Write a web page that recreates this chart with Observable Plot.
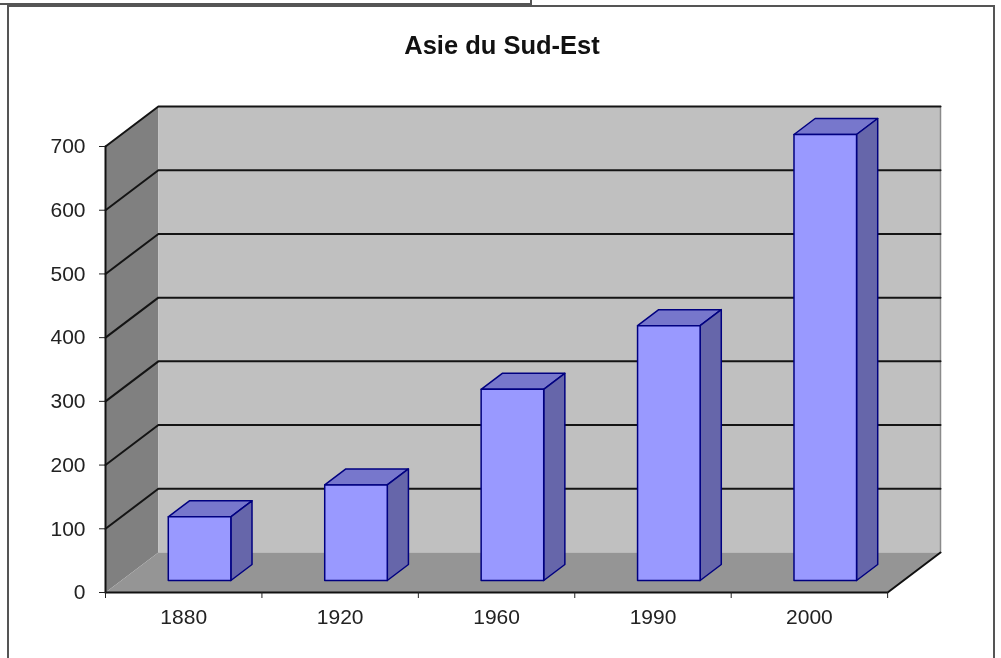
<!DOCTYPE html>
<html><head><meta charset="utf-8">
<script src="https://cdn.jsdelivr.net/npm/d3@7"></script>
<script src="https://cdn.jsdelivr.net/npm/@observablehq/plot@0.6"></script>
<style>
html,body{margin:0;padding:0;background:#fff;overflow:hidden}
#page{position:relative;width:1001px;height:658px;overflow:hidden;font-family:"Liberation Sans",Arial,sans-serif;color:#111;filter:blur(.45px)}
#tab{position:absolute;left:-2px;top:-2px;width:532px;height:4px;border:1px solid #555;border-width:1px 2px 2px 0}
#frame{position:absolute;left:7px;top:5px;width:988px;height:700px;border:2px solid #555;box-sizing:border-box}
#title{position:absolute;left:0;top:28px;width:1004px;text-align:center;font-size:25.5px;font-weight:bold;line-height:34px;color:#111}
#chart{position:absolute;left:0;top:80px}
</style></head><body>
<div id="page"><div id="tab"></div><div id="frame"></div>
<div id="title">Asie du Sud-Est</div>
<div id="chart"></div></div>
<script>
const categories = ["1880","1920","1960","1990","2000"];
const values = [100,150,300,400,700];
const yTicks = [0,100,200,300,400,500,600,700];
const yMax = 700;

// oblique depth: how far the back of the chart sits, in data units
const DX = 0.338, DY = 62.8;
const n = categories.length;
const P = (c, v, z) => ({x: c + z*DX, y: v + z*DY});
const poly = (id, pts) => pts.map(p => ({id, ...P(...p)}));
const shape = (rows, fill, stroke, strokeWidth=0) =>
  Plot.line(rows, {x:"x", y:"y", z:"id", fill, stroke, strokeWidth, curve:"linear-closed", strokeLinejoin:"round"});
const seg = (rows, stroke, strokeWidth) =>
  Plot.line(rows, {x:"x", y:"y", z:"id", stroke, strokeWidth, curve:"linear"});

const wallLeft = poly("l", [[0,0,0],[0,yMax,0],[0,yMax,1],[0,0,1]]);
const wallBack = poly("b", [[0,0,1],[0,yMax,1],[n,yMax,1],[n,0,1]]);
const floor    = poly("f", [[0,0,0],[0,0,1],[n,0,1],[n,0,0]]);
const grid = yTicks.filter(v => v > 0).flatMap(v => poly("g"+v, [[0,v,0],[0,v,1],[n,v,1]]));
const edge = poly("e", [[0,0,0],[n,0,0],[n,0,1]]);
const spine = poly("s", [[0,0,0],[0,yMax,0]]);
const wallEdge = poly("r", [[n,0,1],[n,yMax,1]]);

const bw = 0.2, zf = 0.3, zb = 0.7;
const bars = values.flatMap((v,i) => {
  const a = i+.5-bw, b = i+.5+bw;
  return [
    {k:"top",  r:poly("t"+i, [[a,v,zf],[a,v,zb],[b,v,zb],[b,v,zf]])},
    {k:"side", r:poly("d"+i, [[b,0,zf],[b,v,zf],[b,v,zb],[b,0,zb]])},
    {k:"front",r:poly("c"+i, [[a,0,zf],[a,v,zf],[b,v,zf],[b,0,zf]])}
  ];
});
const barRows = k => bars.filter(d => d.k === k).flatMap(d => d.r);

const plot = Plot.plot({
  width:1001, height:578,
  marginTop:26, marginBottom:66, marginLeft:105, marginRight:61,
  style:{background:"transparent", fontFamily:'"Liberation Sans",Arial,sans-serif', overflow:"visible"},
  x:{domain:[0,n+DX], axis:null},
  y:{domain:[0,yMax+DY], axis:null},
  marks:[
    shape(wallLeft,"#808080"),
    shape(wallBack,"#c0c0c0"),
    shape(floor,"#959595"),
    seg(wallEdge,"#8a8a8a",1.5),
    seg(grid,"#141414",2),
    shape(barRows("top"),"#7777cc","#000080",1.5),
    shape(barRows("side"),"#6666aa","#000080",1.5),
    shape(barRows("front"),"#9999ff","#000080",1.5),
    seg(edge,"#111",2),
    seg(spine,"#111",2),
    Plot.axisY({ticks:yTicks, tickSize:6, tickPadding:14, fontSize:21, stroke:"#222", color:"#222", label:null, anchor:"left", tickFormat:d=>String(d)}),
    Plot.axisX(d3.range(n+1), {tickSize:6, tickFormat:()=>"", stroke:"#222", label:null, anchor:"bottom"}),
    Plot.axisX(d3.range(n).map(i=>i+.5), {tickSize:0, tickPadding:17, fontSize:21, color:"#222", label:null, anchor:"bottom", tickFormat:d=>categories[d-.5]})
  ]
});
document.getElementById("chart").append(plot);
</script></body></html>
